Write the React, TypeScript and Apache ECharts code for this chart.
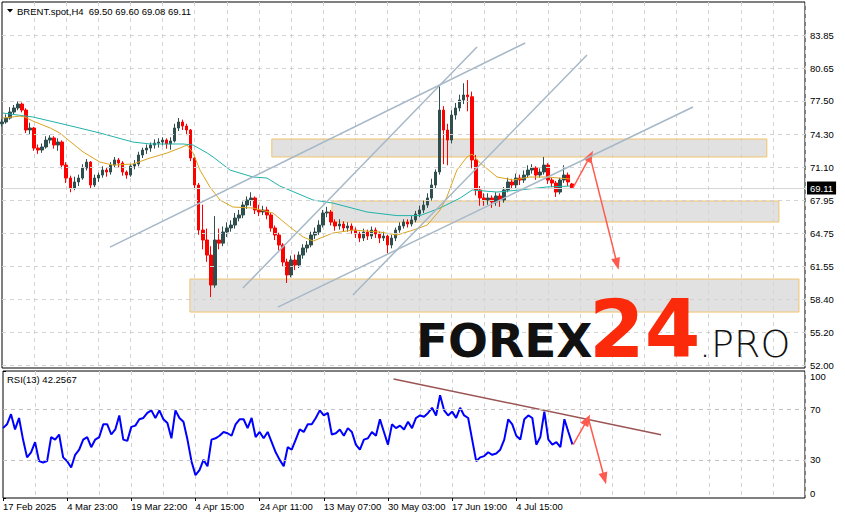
import React, { useEffect, useRef } from "react";
import * as echarts from "echarts";

// ---------- data ----------
const SLOT_COUNT = 201; // H4 time slots on the x axis (each ≈ 4 H4 bars)
const dateLabels = [
  "17 Feb 2025",
  "4 Mar 23:00",
  "19 Mar 22:00",
  "4 Apr 15:00",
  "24 Apr 11:00",
  "13 May 07:00",
  "30 May 03:00",
  "17 Jun 19:00",
  "4 Jul 15:00",
];
const priceTicks = [52.0, 55.2, 58.4, 61.55, 64.75, 67.95, 71.1, 74.3, 77.5, 80.65, 83.85];
const rsiTicks = [0, 30, 70, 100];
const rsiLevels = [30, 70];
const lastPrice = 69.11;
const headerText = "BRENT.spot,H4  69.50 69.60 69.08 69.11";
const rsiHeaderText = "RSI(13) 42.2567";

// [open, close, low, high]
const candles = [
  [75.30, 75.47, 75.05, 75.75], [75.47, 75.85, 75.30, 76.20], [75.85, 76.43, 75.70, 76.90], [76.43, 76.82, 76.20, 77.10],
  [76.82, 77.20, 76.60, 77.45], [77.20, 76.62, 76.40, 77.35], [76.62, 74.70, 74.40, 76.80], [74.70, 74.89, 74.30, 75.40],
  [74.89, 72.96, 72.70, 75.00], [72.96, 72.77, 72.40, 73.30], [72.77, 73.06, 72.50, 73.40], [73.06, 73.73, 72.90, 74.10],
  [73.73, 73.93, 73.40, 74.20], [73.93, 73.25, 72.90, 74.10], [73.25, 73.54, 72.70, 73.90], [73.54, 71.32, 71.00, 73.70],
  [71.32, 70.07, 69.60, 71.60], [70.07, 69.11, 68.70, 70.30], [69.11, 69.69, 68.90, 70.20], [69.69, 70.07, 69.30, 70.40],
  [70.07, 71.03, 69.90, 71.40], [71.03, 71.61, 70.80, 71.90], [71.61, 69.40, 69.10, 71.70], [69.40, 70.07, 69.20, 70.40],
  [70.07, 70.36, 69.70, 70.60], [70.36, 70.84, 70.10, 71.20], [70.84, 70.65, 70.20, 71.10], [70.65, 71.32, 70.40, 71.60],
  [71.32, 71.81, 71.10, 72.10], [71.81, 71.52, 71.10, 72.00], [71.52, 70.65, 70.30, 71.70], [70.65, 70.36, 70.00, 70.80],
  [70.36, 71.23, 70.20, 71.40], [71.23, 71.42, 70.90, 71.80], [71.42, 72.29, 71.20, 72.60], [72.29, 72.77, 72.00, 73.00],
  [72.77, 72.96, 72.40, 73.30], [72.96, 73.25, 72.60, 73.50], [73.25, 73.44, 72.90, 73.80], [73.44, 73.54, 73.00, 73.90],
  [73.54, 73.73, 73.20, 74.00], [73.73, 73.35, 72.90, 73.90], [73.35, 73.64, 72.80, 74.00], [73.64, 74.89, 73.50, 75.30],
  [74.89, 75.47, 74.60, 75.85], [75.47, 75.08, 74.70, 75.70], [75.08, 74.70, 74.20, 75.30], [74.70, 72.00, 71.70, 74.80],
  [72.00, 69.40, 69.00, 72.20], [69.40, 65.06, 64.60, 69.60], [65.06, 64.10, 63.20, 67.50], [64.10, 62.65, 62.00, 65.20],
  [62.65, 59.76, 58.60, 63.50], [59.76, 64.10, 59.50, 66.40], [64.10, 63.80, 63.20, 65.20], [63.80, 64.87, 63.50, 65.40],
  [64.87, 65.26, 64.40, 65.80], [65.26, 65.54, 64.90, 66.00], [65.54, 66.22, 65.20, 66.70], [66.22, 66.51, 65.90, 67.00],
  [66.51, 67.47, 66.20, 67.80], [67.47, 67.95, 67.10, 68.30], [67.95, 68.15, 67.40, 68.70], [68.15, 66.99, 66.60, 68.30],
  [66.99, 66.80, 66.40, 67.50], [66.80, 66.99, 66.50, 67.40], [66.99, 66.51, 66.10, 67.30], [66.51, 65.26, 64.90, 66.70],
  [65.26, 64.58, 64.10, 65.50], [64.58, 63.62, 63.10, 64.80], [63.62, 61.98, 61.50, 63.80], [61.98, 60.73, 59.96, 62.30],
  [60.73, 62.17, 60.50, 62.60], [62.17, 61.69, 61.20, 62.70], [61.69, 62.65, 61.40, 63.00], [62.65, 63.33, 62.30, 63.70],
  [63.33, 63.62, 62.90, 64.00], [63.62, 64.58, 63.40, 64.90], [64.58, 64.87, 64.20, 65.30], [64.87, 65.54, 64.60, 66.00],
  [65.54, 66.70, 65.30, 67.00], [66.70, 66.80, 66.30, 67.30], [66.80, 65.83, 65.50, 67.00], [65.83, 65.45, 65.00, 66.10],
  [65.45, 65.64, 65.10, 66.10], [65.64, 65.26, 64.90, 65.90], [65.26, 65.45, 64.90, 65.80], [65.45, 65.06, 64.70, 65.70],
  [65.06, 64.68, 64.30, 65.30], [64.68, 64.29, 63.90, 64.90], [64.29, 64.87, 64.00, 65.20], [64.87, 64.48, 64.10, 65.10],
  [64.48, 65.06, 64.20, 65.40], [65.06, 64.68, 64.30, 65.30], [64.68, 64.29, 63.80, 64.90], [64.29, 64.48, 64.00, 64.90],
  [64.48, 63.62, 62.85, 64.60], [63.62, 64.29, 63.30, 64.60], [64.29, 65.06, 64.00, 65.30], [65.06, 65.45, 64.80, 65.80],
  [65.45, 65.83, 65.20, 66.10], [65.83, 65.64, 65.30, 66.10], [65.64, 66.03, 65.40, 66.40], [66.03, 66.60, 65.80, 66.90],
  [66.60, 66.99, 66.30, 67.40], [66.99, 67.47, 66.70, 67.90], [67.47, 68.15, 67.20, 68.60], [68.15, 69.40, 67.90, 70.00],
  [69.40, 70.65, 69.10, 70.90], [70.65, 76.62, 70.40, 78.90], [76.62, 74.70, 71.40, 77.00], [74.70, 73.73, 71.30, 75.30],
  [73.73, 76.14, 73.40, 76.60], [76.14, 76.82, 75.70, 77.30], [76.82, 77.59, 76.50, 78.10], [77.59, 78.07, 77.20, 79.20],
  [78.07, 77.90, 76.50, 79.50], [77.90, 71.81, 71.00, 78.40], [71.81, 68.92, 68.40, 72.30], [68.92, 68.15, 67.40, 69.30],
  [68.15, 67.95, 67.40, 68.60], [67.95, 68.15, 67.50, 68.60], [68.15, 67.76, 67.20, 68.40], [67.76, 68.34, 67.40, 68.70],
  [68.34, 67.95, 67.30, 68.60], [67.95, 68.92, 67.70, 69.20], [68.92, 69.69, 68.70, 70.10], [69.69, 69.40, 69.00, 70.00],
  [69.40, 70.07, 69.10, 70.50], [70.07, 69.88, 69.40, 70.40], [69.88, 70.36, 69.60, 70.80], [70.36, 70.84, 70.10, 71.30],
  [70.84, 71.04, 70.50, 71.40], [71.04, 70.36, 69.90, 71.20], [70.36, 70.65, 70.10, 71.00], [70.65, 71.32, 70.40, 72.10],
  [71.32, 69.88, 69.50, 71.50], [69.88, 69.59, 69.20, 70.10], [69.59, 68.72, 68.25, 69.80], [68.72, 69.88, 68.50, 70.10],
  [69.88, 70.36, 69.60, 71.30], [70.36, 69.69, 69.30, 70.60], [69.50, 69.11, 69.08, 69.60],
];

const rsiValues = [
  55, 58, 66, 54, 63, 46, 32, 36, 44, 29,
  28, 29, 48, 46, 50, 32, 29, 24, 34, 38,
  46, 48, 40, 46, 48, 58, 58, 50, 54, 65,
  46, 45, 56, 57, 62, 63, 67, 69, 63, 69,
  62, 59, 47, 69, 63, 60, 46, 29, 18, 22,
  30, 25, 46, 47, 49, 52, 51, 49, 58, 62,
  62, 55, 63, 48, 52, 47, 52, 44, 36, 30,
  25, 40, 38, 46, 54, 52, 58, 58, 63, 69,
  65, 67, 50, 51, 54, 49, 55, 52, 42, 38,
  46, 47, 52, 49, 62, 52, 42, 58, 55, 57,
  54, 60, 55, 63, 65, 64, 67, 71, 65, 81,
  69, 65, 68, 63, 71, 65, 63, 46, 29, 32,
  33, 36, 34, 35, 38, 46, 62, 58, 49, 46,
  62, 65, 63, 42, 48, 68, 46, 42, 44, 40,
  62, 52, 42.2567,
];

// moving averages: [slot, price]
const maTeal = [
  [0.25, 76.33], [7.7, 75.95], [16.2, 75.18], [24.4, 74.41], [32.6, 73.54], [36.9, 73.35],
  [45.1, 73.35], [47.6, 73.25], [51.1, 72.48], [52.6, 72.09], [56.8, 70.84], [62.5, 70.17],
  [66, 70.07], [69.2, 69.3], [77.5, 67.95], [82.4, 67.66], [90.9, 66.8], [98.4, 66.45],
  [104.1, 66.45], [109.1, 67.18], [114.1, 68.14], [117.1, 68.92], [123.3, 68.72],
  [129, 68.92], [135.7, 69.21], [141.5, 69.3],
];
const maGold = [
  [0.25, 75.85], [4.5, 76.04], [5.7, 75.95], [7.7, 75.56], [12, 74.89], [14.4, 74.41],
  [16.2, 73.83], [20.2, 72.58], [24.4, 71.61], [27.6, 71.32], [32.6, 71.42], [36.9, 72.0],
  [41.1, 72.48], [44.3, 72.96], [46.1, 73.25], [47.6, 72.48], [49.3, 70.84], [51.8, 69.2],
  [54.3, 67.95], [57.5, 67.28], [62.5, 67.18], [67.5, 66.7], [71.7, 65.35], [75, 64.39],
  [77.5, 64.0], [82.4, 64.77], [87.4, 65.06], [94.1, 64.87], [98.4, 64.58], [102.4, 65.06],
  [105.9, 65.54], [109.1, 66.99], [110.8, 68.24], [113.3, 70.84], [115.8, 72.09],
  [117.1, 72.38], [119.1, 71.52], [123.3, 70.17], [127.3, 69.88], [131.5, 70.17],
  [135.7, 70.17], [141.5, 69.98],
];

// annotations in [slot, value]
const trendLines = [
  [[26.9, 63.42], [130.3, 83.08]],
  [[60.0, 59.47], [118.3, 82.69]],
  [[87.4, 58.8], [145.7, 81.92]],
  [[68.7, 57.64], [172.1, 76.91]],
];
const zones = [
  [[67.2, 73.83], [190.5, 72.1]],
  [[82.2, 67.86], [193.5, 65.83]],
  [[46.8, 60.34], [198.5, 57.16]],
];
const priceArrows = [
  [[142.2, 69.11], [146.5, 72.19]],
  [[146.5, 72.09], [153.2, 61.79]],
];
const rsiTrend = [[97.4, 93.7], [164.1, 49.8]];
const rsiArrows = [
  [[142.2, 42], [145.7, 61.6]],
  [[146.0, 62.4], [150.0, 15.3]],
];

// ---------- chart ----------
const FONT = "Liberation Sans, Arial, sans-serif";
const GRID_COLOR = "#d2d2d2";
const AXIS_FONT_SIZE = 9.5;

export default function App() {
  const ref = useRef<HTMLDivElement>(null);

  useEffect(() => {
    if (!ref.current) return;
    const chart = echarts.init(ref.current, null, { renderer: "svg" });
    const slots = Array.from({ length: SLOT_COUNT }, (_, i) => String(i));
    const labelInterval = (i: number) => i % 16 === 0 && i / 16 < dateLabels.length;
    const splitInterval = (i: number) => i % 8 === 0 && i > 0;

    const arrowLine = (arr: number[][][]) => ({
      silent: true,
      symbol: ["none", "triangle"],
      symbolSize: [9, 12],
      label: { show: false },
      lineStyle: { color: "#ff5a4e", width: 1.5, type: "solid" },
      data: arr.map((a) => [{ coord: a[0] }, { coord: a[1] }]),
    });

    const option: any = {
      animation: false,
      backgroundColor: "#fff",
      textStyle: { fontFamily: FONT },
      grid: [
        { left: 2, top: 2, width: 803, height: 366, show: true, borderColor: "#000", borderWidth: 1 },
        { left: 2, top: 371, width: 803, height: 127, show: true, borderColor: "#000", borderWidth: 1 },
      ],
      xAxis: [
        {
          type: "category", gridIndex: 0, data: slots, boundaryGap: false,
          axisLine: { show: false }, axisTick: { show: false }, axisLabel: { show: false },
          splitLine: { show: true, interval: splitInterval, lineStyle: { color: GRID_COLOR, type: [4, 4] } },
        },
        { type: "value", gridIndex: 0, min: 0, max: SLOT_COUNT - 1, show: false },
        {
          type: "category", gridIndex: 1, data: slots, boundaryGap: false,
          axisLine: { show: false },
          axisTick: { show: true, interval: labelInterval, length: 3, lineStyle: { color: "#000" } },
          axisLabel: {
            interval: labelInterval,
            formatter: (_v: string, idx: number) => dateLabels[Math.round(idx / 16)] ?? "",
            align: "left", margin: 3, fontSize: AXIS_FONT_SIZE, color: "#000", fontFamily: FONT,
          },
          splitLine: { show: true, interval: splitInterval, lineStyle: { color: GRID_COLOR, type: [4, 4] } },
        },
        { type: "value", gridIndex: 1, min: 0, max: SLOT_COUNT - 1, show: false },
      ],
      yAxis: [
        {
          type: "value", gridIndex: 0, position: "right", min: 51.77, max: 87.03,
          splitLine: { show: false }, axisLine: { show: false },
          axisTick: { show: true, length: 3, customValues: priceTicks, lineStyle: { color: "#000" } },
          axisLabel: {
            customValues: priceTicks, formatter: (v: number) => v.toFixed(2),
            margin: 5, fontSize: AXIS_FONT_SIZE, color: "#000", fontFamily: FONT,
          },
        },
        {
          type: "value", gridIndex: 1, position: "right", min: 0, max: 100,
          splitLine: { show: false }, axisLine: { show: false },
          axisTick: { show: true, length: 3, customValues: rsiTicks, lineStyle: { color: "#000" } },
          axisLabel: {
            customValues: rsiTicks, margin: 5, fontSize: AXIS_FONT_SIZE, color: "#000", fontFamily: FONT,
            verticalAlignMinLabel: "bottom", verticalAlignMaxLabel: "top",
          },
        },
      ],
      series: [
        // horizontal price grid
        {
          type: "line", xAxisIndex: 1, yAxisIndex: 0, data: [], z: 1, silent: true,
          markLine: {
            silent: true, symbol: "none", label: { show: false },
            lineStyle: { color: GRID_COLOR, type: [4, 4], width: 1 },
            data: priceTicks.map((v) => ({ yAxis: v })),
          },
        },
        {
          type: "candlestick", xAxisIndex: 0, yAxisIndex: 0, data: candles, barWidth: 3, z: 2,
          itemStyle: {
            color: "#2f4f4f", color0: "#ff0000", borderColor: "#2f4f4f", borderColor0: "#ff0000", borderWidth: 1,
          },
          markLine: {
            silent: true, symbol: "none",
            lineStyle: { color: "#d8d8d8", type: "solid", width: 1 },
            label: {
              show: true, position: "end", distance: 2, formatter: () => lastPrice.toFixed(2),
              backgroundColor: "#000", color: "#fff", padding: [2, 3, 1, 3], fontSize: AXIS_FONT_SIZE, fontFamily: FONT,
            },
            data: [{ yAxis: lastPrice }],
          },
        },
        {
          type: "line", xAxisIndex: 1, yAxisIndex: 0, data: maTeal, showSymbol: false, z: 3,
          lineStyle: { color: "#20b2aa", width: 1 },
        },
        {
          type: "line", xAxisIndex: 1, yAxisIndex: 0, data: maGold, showSymbol: false, z: 3,
          lineStyle: { color: "#daa520", width: 1 },
        },
        // zones
        {
          type: "line", xAxisIndex: 1, yAxisIndex: 0, data: [], z: 4,
          markArea: {
            silent: true,
            itemStyle: { color: "rgba(214,214,214,0.72)", borderColor: "#f2c46c", borderWidth: 1 },
            data: zones.map((z) => [{ coord: z[0] }, { coord: z[1] }]),
          },
        },
        // channel lines
        ...trendLines.map((t) => ({
          type: "line", xAxisIndex: 1, yAxisIndex: 0, data: t, showSymbol: false, z: 5,
          lineStyle: { color: "#a6b8c7", width: 1.5 },
        })),
        // arrows on price
        {
          type: "line", xAxisIndex: 1, yAxisIndex: 0, data: [], z: 6,
          markLine: arrowLine(priceArrows),
        },
        // RSI
        {
          type: "line", xAxisIndex: 3, yAxisIndex: 1, data: [], z: 1, silent: true,
          markLine: {
            silent: true, symbol: "none", label: { show: false },
            lineStyle: { color: "#c4c4c4", type: [4, 4], width: 1 },
            data: rsiLevels.map((v) => ({ yAxis: v })),
          },
        },
        {
          type: "line", xAxisIndex: 2, yAxisIndex: 1, data: rsiValues, showSymbol: false, z: 3,
          lineStyle: { color: "#0000ff", width: 2 },
        },
        {
          type: "line", xAxisIndex: 3, yAxisIndex: 1, data: rsiTrend, showSymbol: false, z: 4,
          lineStyle: { color: "#9a5454", width: 1.5 },
        },
        {
          type: "line", xAxisIndex: 3, yAxisIndex: 1, data: [], z: 6,
          markLine: arrowLine(rsiArrows),
        },
      ],
      graphic: [
        { type: "polygon", z: 100, shape: { points: [[7, 9], [13, 9], [10, 12.5]] }, style: { fill: "#000" } },
        {
          type: "text", z: 100, x: 17, y: 11,
          style: { text: headerText, fontSize: 9.5, fontFamily: FONT, fill: "#000", verticalAlign: "middle" },
        },
        {
          type: "text", z: 100, x: 7, y: 379,
          style: { text: rsiHeaderText, fontSize: 9.5, fontFamily: FONT, fill: "#000", verticalAlign: "middle" },
        },
        {
          type: "text", z: 100, x: 416, y: 340,
          style: { text: "FOREX", fontSize: 47, fontWeight: "bold", fontFamily: "DejaVu Sans", fill: "#111", verticalAlign: "middle" },
        },
        {
          type: "text", z: 100, x: 589, y: 329,
          style: { text: "24", fontSize: 80, fontWeight: "bold", fontFamily: "DejaVu Sans", fill: "#fa2a0b", verticalAlign: "middle" },
        },
        {
          type: "text", z: 100, x: 699, y: 344,
          style: { text: ".PRO", fontSize: 38, fontWeight: 200, fontFamily: "DejaVu Sans", fill: "#111", verticalAlign: "middle" },
        },
      ],
    };

    chart.setOption(option);
    return () => chart.dispose();
  }, []);

  return (
    <div
      ref={ref}
      style={{ position: "fixed", left: 0, top: 0, width: 845, height: 519, background: "#fff" }}
    />
  );
}
